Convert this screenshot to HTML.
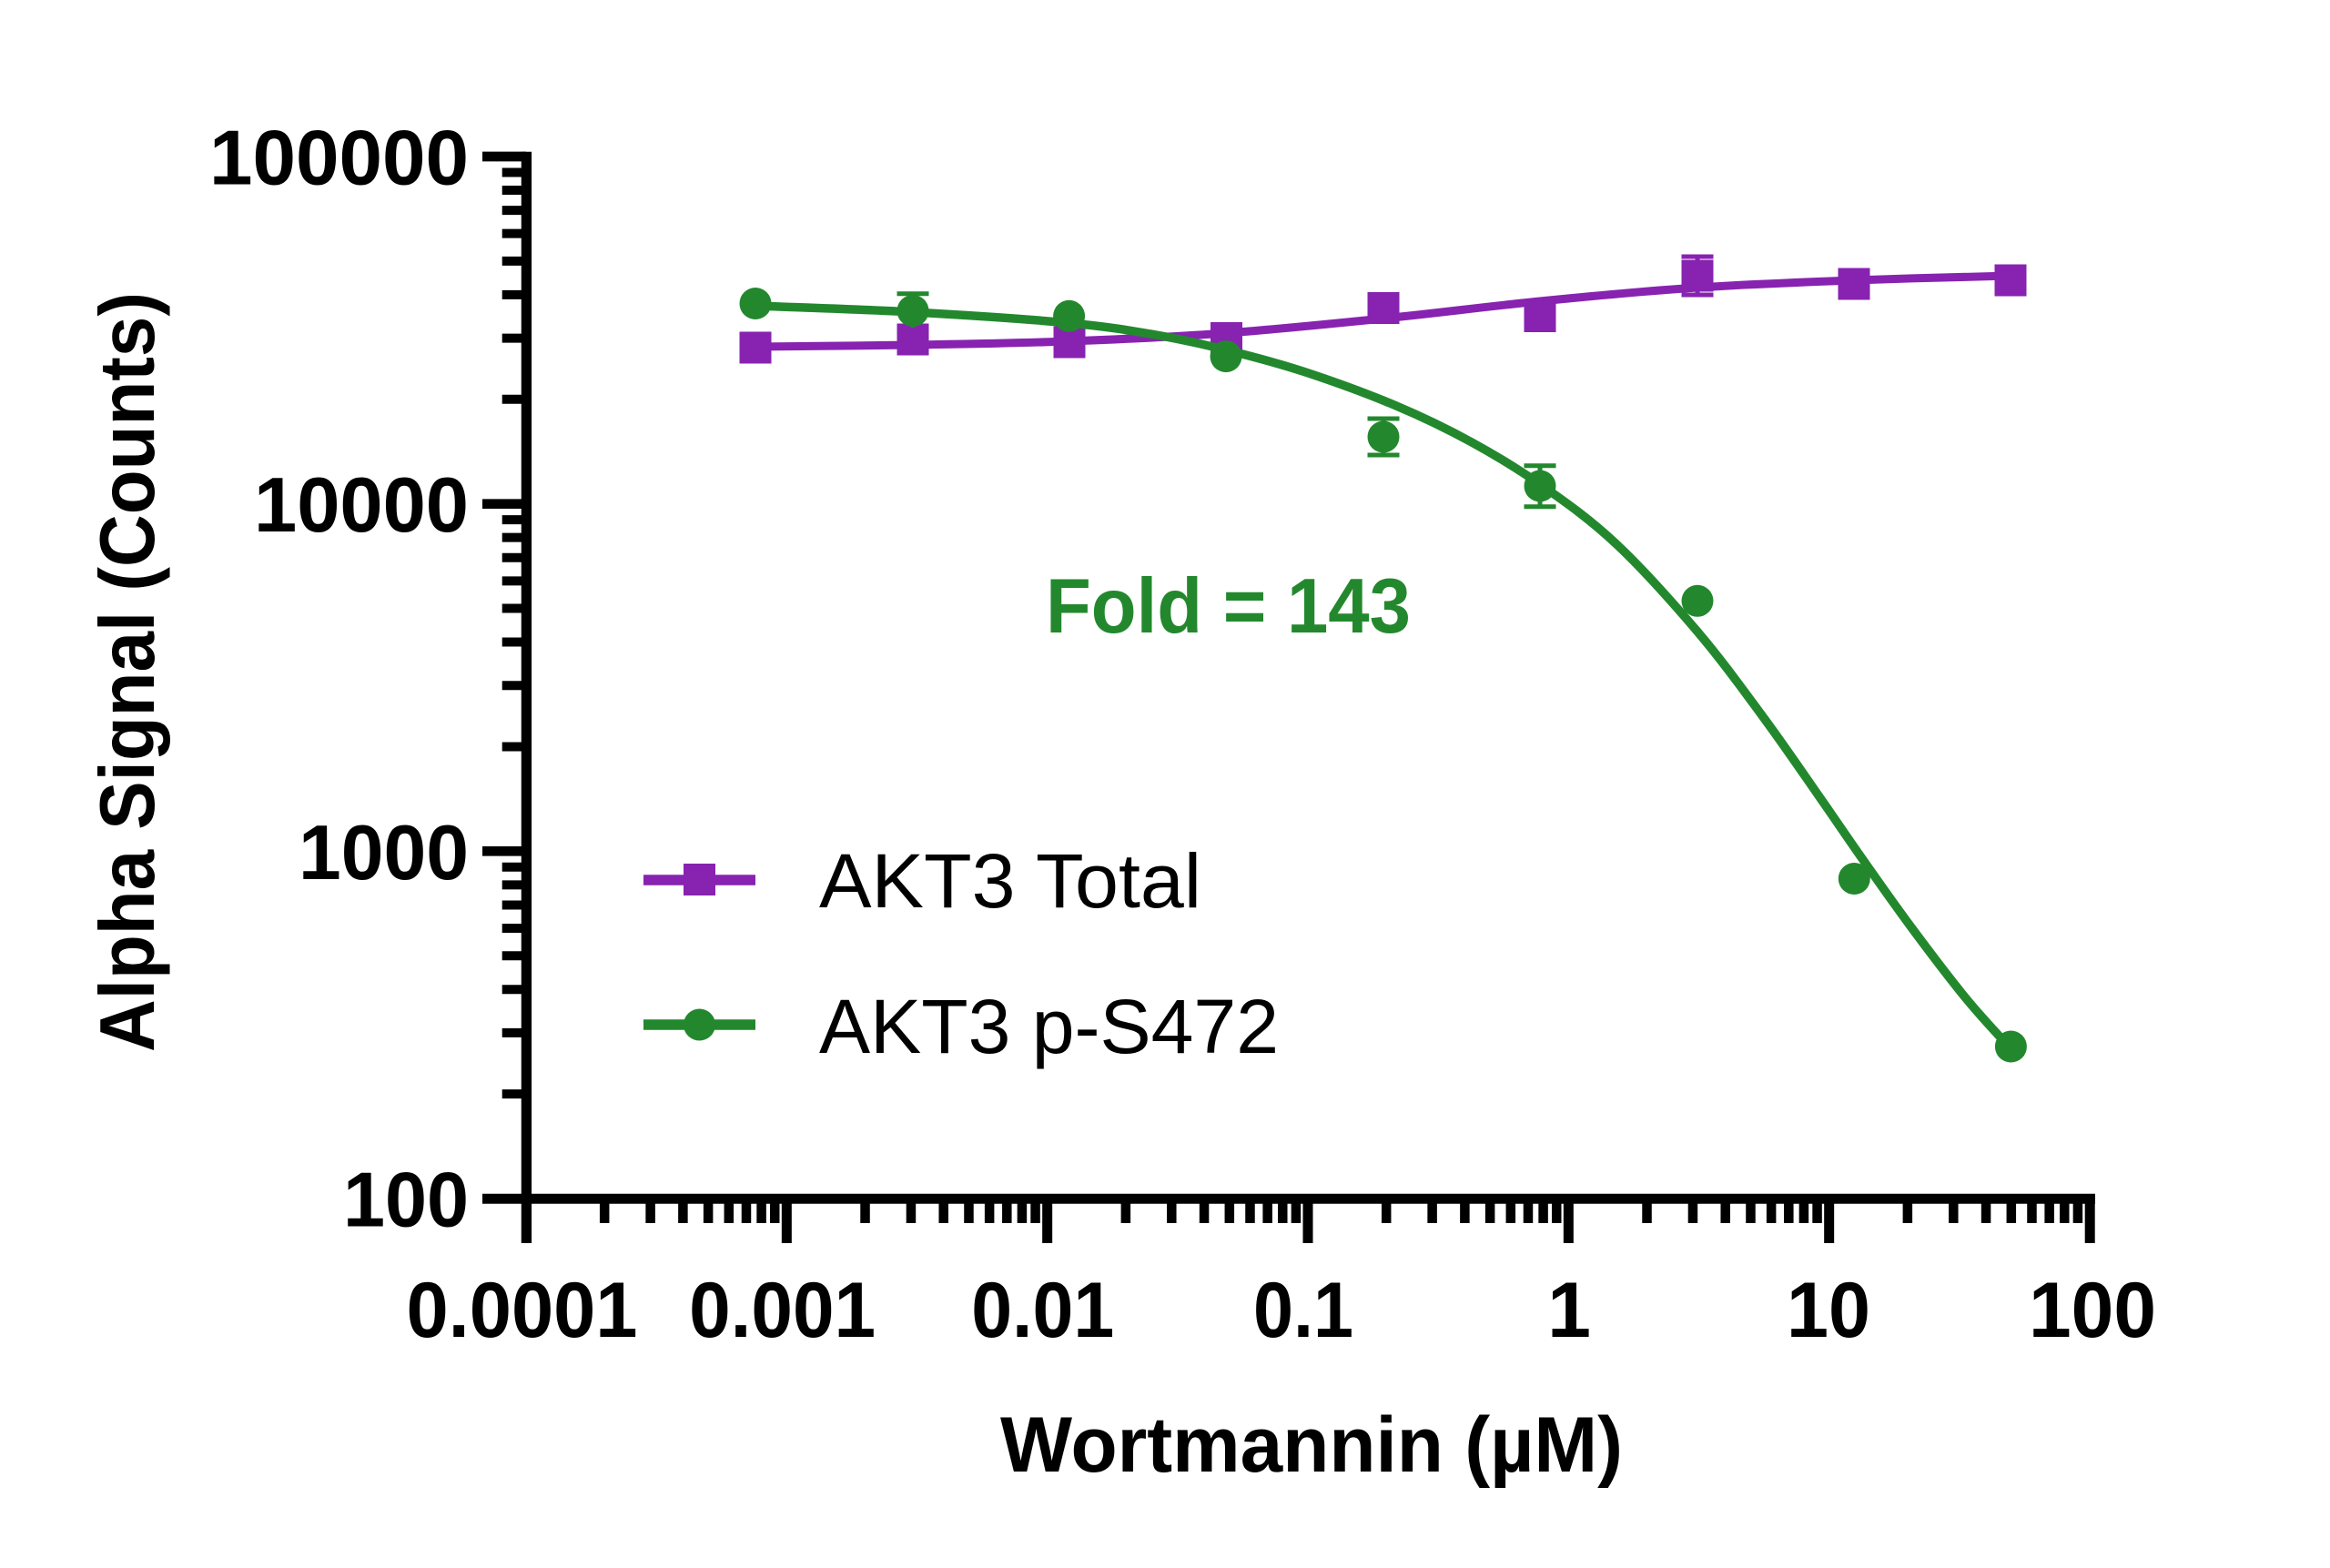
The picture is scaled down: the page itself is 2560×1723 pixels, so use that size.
<!DOCTYPE html>
<html>
<head>
<meta charset="utf-8">
<style>
  html, body { margin: 0; padding: 0; background: #ffffff; }
  svg { display: block; }
  text { font-family: "Liberation Sans", Arial, sans-serif; }
</style>
</head>
<body>
<svg width="2560" height="1723" viewBox="0 0 2560 1723" xmlns="http://www.w3.org/2000/svg">
  <rect x="0" y="0" width="2560" height="1723" fill="#ffffff"/>

  <!-- Axes -->
  <g stroke="#000" fill="none" stroke-linecap="butt">
    <line x1="578.4" y1="166.7" x2="578.4" y2="1366" stroke-width="11.3"/>
    <line x1="530" y1="1317.2" x2="2302" y2="1317.2" stroke-width="11"/>
    <!-- Y major ticks -->
    <path stroke-width="10.7" d="M530 172 H578 M530 553.67 H578 M530 935.33 H578"/>
    <!-- Y minor ticks -->
    <path stroke-width="10" d="
      M551.7 1202.11 H578 M551.7 1134.9 H578 M551.7 1087.21 H578 M551.7 1050.23 H578 M551.7 1020 H578 M551.7 994.45 H578 M551.7 972.32 H578 M551.7 952.8 H578
      M551.7 820.44 H578 M551.7 753.23 H578 M551.7 705.54 H578 M551.7 668.56 H578 M551.7 638.33 H578 M551.7 612.78 H578 M551.7 590.65 H578 M551.7 571.13 H578
      M551.7 438.78 H578 M551.7 371.57 H578 M551.7 323.88 H578 M551.7 286.9 H578 M551.7 256.67 H578 M551.7 231.12 H578 M551.7 208.99 H578 M551.7 189.47 H578"/>
    <!-- X major ticks -->
    <path stroke-width="11" d="M864.33 1317 V1366 M1150.67 1317 V1366 M1437 1317 V1366 M1723.33 1317 V1366 M2009.67 1317 V1366 M2296.2 1317 V1366"/>
    <!-- X minor ticks -->
    <path stroke-width="10.5" d="
      M664.19 1317 V1344 M714.62 1317 V1344 M750.39 1317 V1344 M778.14 1317 V1344 M800.81 1317 V1344 M819.98 1317 V1344 M836.59 1317 V1344 M851.24 1317 V1344
      M950.52 1317 V1344 M1000.95 1317 V1344 M1036.72 1317 V1344 M1064.47 1317 V1344 M1087.14 1317 V1344 M1106.31 1317 V1344 M1122.92 1317 V1344 M1137.57 1317 V1344
      M1236.86 1317 V1344 M1287.29 1317 V1344 M1323.06 1317 V1344 M1350.81 1317 V1344 M1373.48 1317 V1344 M1392.65 1317 V1344 M1409.26 1317 V1344 M1423.91 1317 V1344
      M1523.19 1317 V1344 M1573.62 1317 V1344 M1609.39 1317 V1344 M1637.14 1317 V1344 M1659.81 1317 V1344 M1678.98 1317 V1344 M1695.59 1317 V1344 M1710.24 1317 V1344
      M1809.52 1317 V1344 M1859.95 1317 V1344 M1895.72 1317 V1344 M1923.47 1317 V1344 M1946.14 1317 V1344 M1965.31 1317 V1344 M1981.92 1317 V1344 M1996.57 1317 V1344
      M2095.86 1317 V1344 M2146.29 1317 V1344 M2182.06 1317 V1344 M2209.81 1317 V1344 M2232.48 1317 V1344 M2251.65 1317 V1344 M2268.26 1317 V1344 M2282.91 1317 V1344"/>
  </g>

  <!-- Y tick labels -->
  <g font-size="85" font-weight="bold" fill="#000" text-anchor="end">
    <text x="515" y="202.5" textLength="285" lengthAdjust="spacingAndGlyphs">100000</text>
    <text x="515" y="584.2" textLength="236" lengthAdjust="spacingAndGlyphs">10000</text>
    <text x="515" y="965.8" textLength="187" lengthAdjust="spacingAndGlyphs">1000</text>
    <text x="515" y="1347.5" textLength="138" lengthAdjust="spacingAndGlyphs">100</text>
  </g>

  <!-- X tick labels -->
  <g font-size="86" font-weight="bold" fill="#000" text-anchor="middle">
    <text x="573.5" y="1469" textLength="254" lengthAdjust="spacingAndGlyphs">0.0001</text>
    <text x="859.6" y="1469" textLength="205" lengthAdjust="spacingAndGlyphs">0.001</text>
    <text x="1145.7" y="1469" textLength="157" lengthAdjust="spacingAndGlyphs">0.01</text>
    <text x="1432" y="1469" textLength="110" lengthAdjust="spacingAndGlyphs">0.1</text>
    <text x="1724" y="1469">1</text>
    <text x="2009" y="1469" textLength="92" lengthAdjust="spacingAndGlyphs">10</text>
    <text x="2299" y="1469" textLength="140" lengthAdjust="spacingAndGlyphs">100</text>
  </g>

  <!-- Axis titles -->
  <text x="1099" y="1617" font-size="86" font-weight="bold" fill="#000" textLength="684" lengthAdjust="spacingAndGlyphs">Wortmannin (µM)</text>
  <text transform="translate(169,738.5) rotate(-90)" x="0" y="0" font-size="85" font-weight="bold" fill="#000" text-anchor="middle" textLength="835" lengthAdjust="spacingAndGlyphs">Alpha Signal (Counts)</text>

  <!-- Fold annotation -->
  <text x="1149" y="695" font-size="85" font-weight="bold" fill="#23882D" textLength="401" lengthAdjust="spacingAndGlyphs">Fold = 143</text>

  <!-- Purple series (AKT3 Total) -->
  <path fill="none" stroke="#8723B0" stroke-width="9" stroke-linecap="round" stroke-linejoin="round"
    d="M830 381 C858.8 380.7 945.5 380 1003 379
       C1060.5 378 1117.7 377.2 1175 375
       C1232.3 372.8 1289.5 370.2 1347 366
       C1404.5 361.8 1462.5 355.8 1520 350
       C1577.5 344.2 1634.5 336.7 1692 331
       C1749.5 325.3 1807.5 319.8 1865 316
       C1922.5 312.2 1979.7 310.2 2037 308
       C2094.3 305.8 2180.3 303.8 2209 303"/>
  <g fill="#8723B0">
    <rect x="812.5" y="364.5" width="35" height="35"/>
    <rect x="985.5" y="355.5" width="35" height="35"/>
    <rect x="1157.5" y="358.5" width="35" height="35"/>
    <rect x="1330" y="354" width="35" height="35"/>
    <rect x="1502.5" y="321" width="35" height="35"/>
    <rect x="1674.5" y="330" width="35" height="35"/>
    <rect x="1847.5" y="285.5" width="35" height="35"/>
    <rect x="2019.5" y="294.5" width="35" height="35"/>
    <rect x="2191.5" y="290.5" width="35" height="35"/>
  </g>
  <!-- purple error bar at 3.125 -->
  <g stroke="#8723B0" stroke-width="5" fill="none">
    <line x1="1865" y1="282" x2="1865" y2="324"/>
    <line x1="1847.5" y1="282" x2="1882.5" y2="282"/>
    <line x1="1847.5" y1="324" x2="1882.5" y2="324"/>
  </g>

  <!-- Green series (AKT3 p-S472) -->
  <path fill="none" stroke="#23882D" stroke-width="9.5" stroke-linecap="round" stroke-linejoin="round"
    d="M830 336 C858.8 337.2 945.5 339.8 1003 343
       C1060.5 346.2 1130.5 350.8 1175 355
       C1219.5 359.2 1241.3 363.1 1270 368
       C1298.7 372.9 1319.8 377.75 1347 384.5
       C1374.2 391.25 1402 398.3 1433 408.5
       C1464 418.7 1502.3 432.6 1533 445.5
       C1563.7 458.4 1590.2 471.3 1617 486
       C1643.8 500.7 1667.7 515 1694 533.5
       C1720.3 552 1746.5 570.25 1775 597
       C1803.5 623.75 1837.8 662 1865 694
       C1892.2 726 1915.5 758.5 1938 789
       C1960.5 819.5 1982 851.25 2000 877
       C2018 902.75 2029.3 919.8 2046 943.5
       C2062.7 967.2 2081 993.4 2100 1019
       C2119 1044.6 2141.8 1074.8 2160 1097
       C2178.2 1119.2 2200.8 1142.8 2209 1152"/>
  <!-- green error bars -->
  <g stroke="#23882D" stroke-width="5" fill="none">
    <line x1="1003" y1="322.8" x2="1003" y2="360"/>
    <line x1="985.5" y1="322.8" x2="1020.5" y2="322.8"/>
    <line x1="1520" y1="460" x2="1520" y2="500"/>
    <line x1="1502.5" y1="460" x2="1537.5" y2="460"/>
    <line x1="1502.5" y1="500" x2="1537.5" y2="500"/>
    <line x1="1692" y1="511.7" x2="1692" y2="556.7"/>
    <line x1="1674.5" y1="511.7" x2="1709.5" y2="511.7"/>
    <line x1="1674.5" y1="556.7" x2="1709.5" y2="556.7"/>
  </g>
  <g fill="#23882D">
    <circle cx="830" cy="333.5" r="17.5"/>
    <circle cx="1003" cy="341.5" r="17.5"/>
    <circle cx="1174.6" cy="347.3" r="17.5"/>
    <circle cx="1347" cy="391.6" r="17.5"/>
    <circle cx="1520" cy="480" r="17.5"/>
    <circle cx="1692" cy="534" r="17.5"/>
    <circle cx="1865" cy="660.3" r="17.5"/>
    <circle cx="2037.3" cy="965.5" r="17.5"/>
    <circle cx="2209.4" cy="1150" r="17.5"/>
  </g>

  <!-- Legend -->
  <line x1="707" y1="967" x2="830" y2="967" stroke="#8723B0" stroke-width="11.5"/>
  <rect x="751" y="949" width="35" height="35" fill="#8723B0"/>
  <text x="900" y="997" font-size="84" fill="#000" textLength="420" lengthAdjust="spacingAndGlyphs">AKT3 Total</text>

  <line x1="707" y1="1126" x2="830" y2="1126" stroke="#23882D" stroke-width="11.5"/>
  <circle cx="768.5" cy="1126" r="17.5" fill="#23882D"/>
  <text x="900" y="1157" font-size="84" fill="#000" textLength="505" lengthAdjust="spacingAndGlyphs">AKT3 p-S472</text>
</svg>
</body>
</html>
